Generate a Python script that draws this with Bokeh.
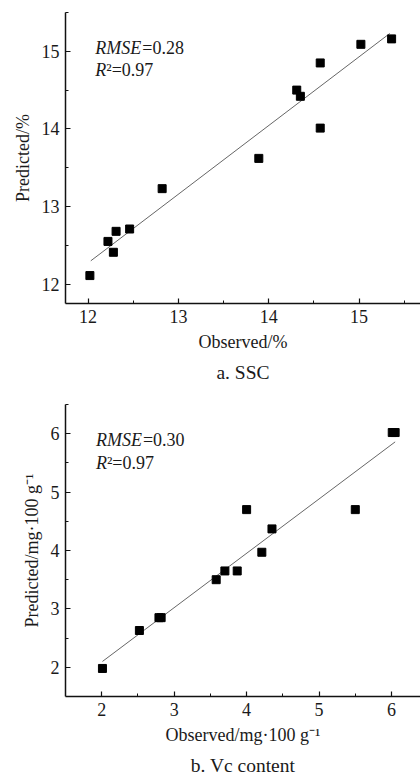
from bokeh.plotting import figure
from bokeh.layouts import column
from bokeh.models import Range1d, FixedTicker, Label, Title
from bokeh.embed import file_html
from bokeh.resources import INLINE

# ---- data: a. SSC ----
ssc_obs = [12.02, 12.22, 12.28, 12.31, 12.46, 12.82, 13.89, 14.31, 14.35, 14.57, 14.57, 15.02, 15.36]
ssc_pred = [12.11, 12.55, 12.41, 12.68, 12.71, 13.23, 13.62, 14.50, 14.42, 14.85, 14.01, 15.09, 15.16]
ssc_fit_x = [12.03, 15.34]
ssc_fit_y = [12.30, 15.23]
ssc_ticks = [12, 13, 14, 15]
ssc_minor = [12.5, 13.5, 14.5, 15.5]

# ---- data: b. Vc content ----
vc_obs = [2.01, 2.52, 2.79, 2.82, 3.58, 3.70, 3.87, 4.00, 4.21, 4.35, 5.50, 6.01, 6.05]
vc_pred = [1.98, 2.63, 2.85, 2.85, 3.50, 3.65, 3.65, 4.70, 3.97, 4.37, 4.70, 6.02, 6.02]
vc_fit_x = [2.01, 6.05]
vc_fit_y = [2.10, 5.86]
vc_ticks = [2, 3, 4, 5, 6]
vc_minor = [2.5, 3.5, 4.5, 5.5, 6.5]

FONT = "Liberation Serif"
TXT = "#1a1a1a"


def make_panel(obs, pred, fx, fy, ticks, minor, xr, yr, xlab, ylab, caption,
               rmse, r2, lx, ly1, ly2, top_border, frame_h, bottom_border):
    p = figure(width=420, frame_width=355, frame_height=frame_h,
               x_range=Range1d(*xr), y_range=Range1d(*yr),
               output_backend="svg", toolbar_location=None,
               min_border_left=65, min_border_right=0,
               min_border_top=top_border, min_border_bottom=bottom_border)
    p.outline_line_color = None
    p.grid.visible = False
    p.background_fill_color = "white"
    p.border_fill_color = "white"

    for ax, lab in ((p.xaxis[0], xlab), (p.yaxis[0], ylab)):
        ax.ticker = FixedTicker(ticks=ticks, minor_ticks=minor)
        ax.axis_label = lab
        ax.axis_label_text_font = FONT
        ax.axis_label_text_font_style = "normal"
        ax.axis_label_text_font_size = "18px"
        ax.axis_label_text_color = TXT
        ax.major_label_text_font = FONT
        ax.major_label_text_font_size = "18px"
        ax.major_label_text_color = TXT
        ax.axis_line_color = "#111111"
        ax.axis_line_width = 1.5
        ax.major_tick_in = 5
        ax.major_tick_out = 0
        ax.minor_tick_in = 3
        ax.minor_tick_out = 0
        ax.major_tick_line_color = "#111111"
        ax.minor_tick_line_color = "#111111"
        ax.major_tick_line_width = 1.2
    p.xaxis.major_label_standoff = 6
    p.xaxis.axis_label_standoff = 6
    p.yaxis.major_label_standoff = 6
    p.yaxis.axis_label_standoff = 6

    p.line(fx, fy, line_color="#666666", line_width=1)
    p.scatter(obs, pred, marker="square", size=8, fill_color="black", line_color="black")

    common = dict(text_font=FONT, text_font_size="18px", text_color=TXT,
                  text_baseline="alphabetic")
    p.add_layout(Label(x=lx, y=ly1, text="RMSE", text_font_style="italic", **common))
    p.add_layout(Label(x=lx, y=ly1, x_offset=47, text="=" + rmse, **common))
    p.add_layout(Label(x=lx, y=ly2, text="R", text_font_style="italic", **common))
    p.add_layout(Label(x=lx, y=ly2, x_offset=11, text="²=" + r2, **common))

    p.add_layout(Title(text=caption, align="center", offset=-24,
                       text_font=FONT, text_font_size="19.5px",
                       text_font_style="normal", text_color=TXT), "below")
    return p


p1 = make_panel(ssc_obs, ssc_pred, ssc_fit_x, ssc_fit_y, ssc_ticks, ssc_minor,
                (11.75, 15.68), (11.75, 15.5), "Observed/%", "Predicted/%", "a. SSC",
                "0.28", "0.97", 12.08, 15.04, 14.76, 12, 291, 87)
p2 = make_panel(vc_obs, vc_pred, vc_fit_x, vc_fit_y, vc_ticks, vc_minor,
                (1.5, 6.40), (1.5, 6.5), "Observed/mg·100 g⁻¹", "Predicted/mg·100 g⁻¹",
                "b. Vc content", "0.30", "0.97", 1.92, 5.885, 5.50, 14, 292, 84)

layout = column(p1, p2, spacing=0)
open("out.html", "w").write(file_html(layout, INLINE))
